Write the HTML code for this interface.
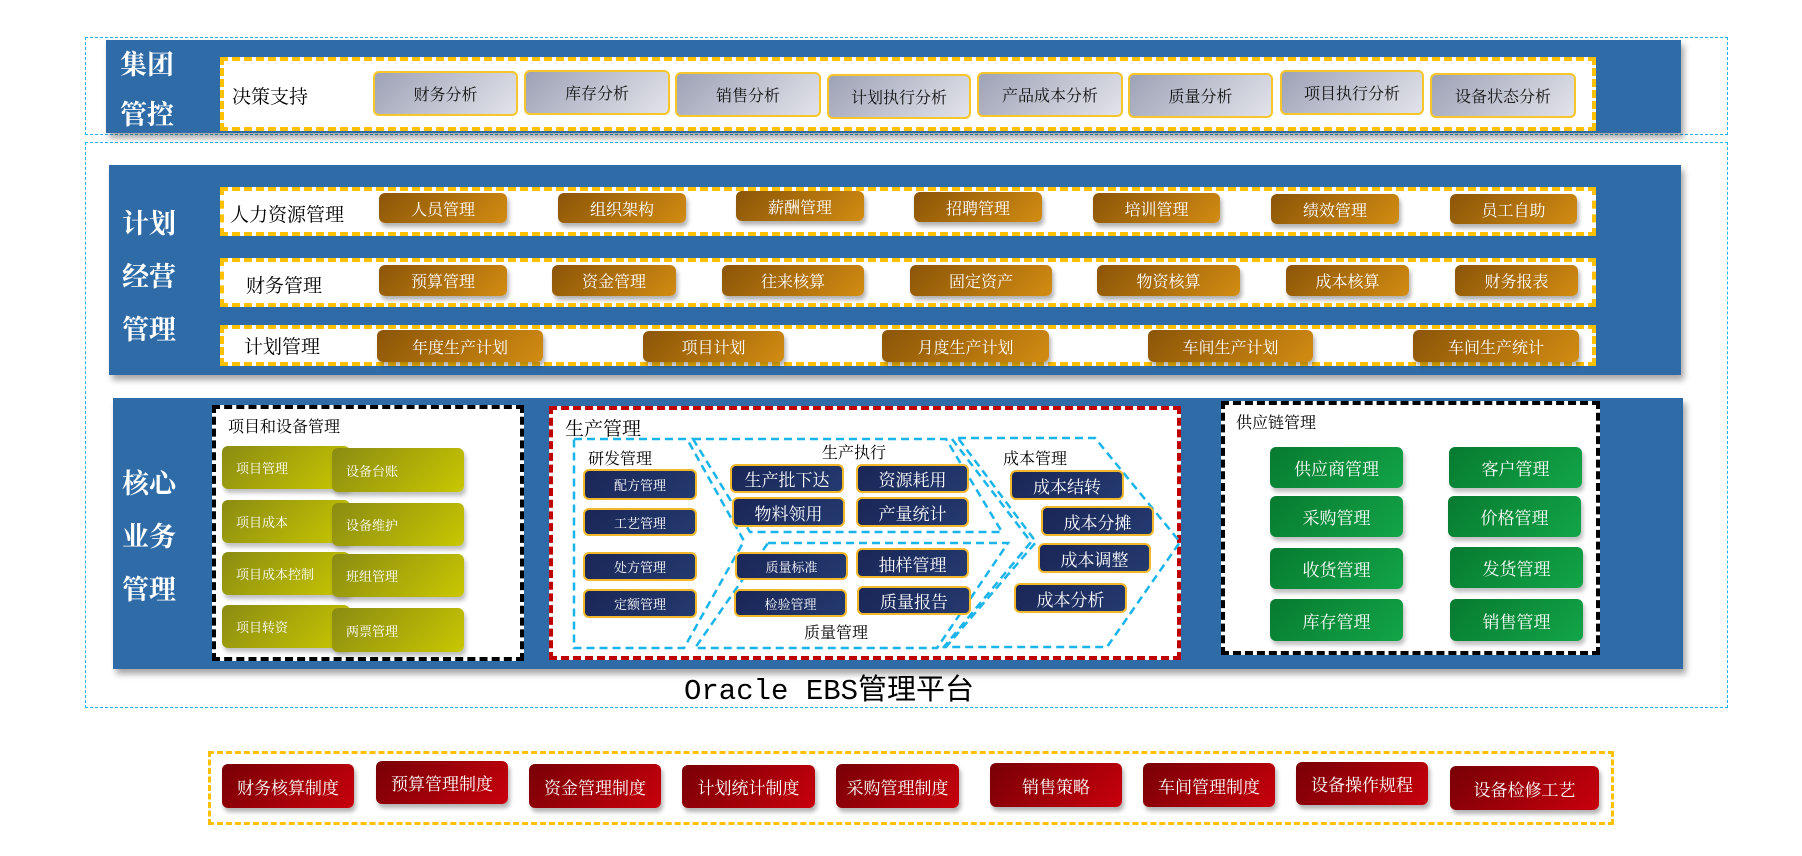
<!DOCTYPE html>
<html><head><meta charset="utf-8"><style>
*{margin:0;padding:0;box-sizing:border-box}
body{width:1802px;height:856px;background:#fff;position:relative;overflow:hidden;font-family:"Liberation Serif","Noto Serif CJK SC",serif}
.a{position:absolute}
.blue{background:#2f6ba7;box-shadow:3px 5px 6px rgba(0,0,0,.35)}
.cy{border:1.5px dashed #19b4ea}
.yd{background:#fff;border:4px dashed #ffc000}
.t{color:#fff;font-weight:bold;font-size:27px;font-family:"Liberation Serif","Noto Serif CJK SC",serif}
.lbl{color:#000;font-size:19px}
.b{display:flex;align-items:center;justify-content:center;border-radius:6px;white-space:nowrap}
.g{background:linear-gradient(135deg,#9ea2b6,#e2e3ea);border:2px solid #f7c62a;font-size:16px;color:#111}
.o{background:linear-gradient(135deg,#8b5508,#d28c12);color:#fff;font-size:16px;box-shadow:2px 4px 4px rgba(0,0,0,.3)}
.ol{background:linear-gradient(135deg,#8a8b12,#c9c701);color:#fff;font-size:13px;justify-content:flex-start;padding-left:14px;box-shadow:2px 4px 4px rgba(0,0,0,.25)}
.n{background:linear-gradient(135deg,#1a2656,#243a70);border:2px solid #f2b82a;color:#fff}
.gr{background:linear-gradient(135deg,#077a30,#12a548);color:#fff;font-size:17px;box-shadow:2px 4px 4px rgba(0,0,0,.25)}
.r{background:linear-gradient(135deg,#780006,#c8000c);color:#fff;font-size:17px;box-shadow:2px 4px 4px rgba(0,0,0,.3)}
</style></head><body>

<!-- group 1 -->
<div class="a cy" style="left:85px;top:37px;width:1643px;height:98px"></div>
<div class="a blue" style="left:106px;top:40px;width:1575px;height:93px"></div>
<div class="a t" style="left:120px;top:40px;line-height:50px">集团<br>管控</div>
<div class="a yd" style="left:220px;top:57px;width:1376px;height:74px"></div>
<div class="a lbl" style="left:232px;top:82px">决策支持</div>
<div class="a b g" style="left:373px;top:71px;width:145px;height:45px">财务分析</div>
<div class="a b g" style="left:524px;top:70px;width:146px;height:45px">库存分析</div>
<div class="a b g" style="left:675px;top:72px;width:146px;height:45px">销售分析</div>
<div class="a b g" style="left:827px;top:74px;width:144px;height:45px">计划执行分析</div>
<div class="a b g" style="left:977px;top:72px;width:146px;height:45px">产品成本分析</div>
<div class="a b g" style="left:1128px;top:73px;width:145px;height:45px">质量分析</div>
<div class="a b g" style="left:1280px;top:70px;width:144px;height:45px">项目执行分析</div>
<div class="a b g" style="left:1430px;top:73px;width:146px;height:45px">设备状态分析</div>

<!-- group 2 -->
<div class="a cy" style="left:85px;top:142px;width:1643px;height:566px"></div>
<div class="a blue" style="left:109px;top:165px;width:1572px;height:210px"></div>
<div class="a t" style="left:122px;top:198px;line-height:53px">计划<br>经营<br>管理</div>

<div class="a yd" style="left:220px;top:187px;width:1376px;height:49px"></div>
<div class="a lbl" style="left:230px;top:200px">人力资源管理</div>
<div class="a b o" style="left:379px;top:193px;width:128px;height:30px">人员管理</div>
<div class="a b o" style="left:558px;top:193px;width:128px;height:30px">组织架构</div>
<div class="a b o" style="left:736px;top:191px;width:128px;height:30px">薪酬管理</div>
<div class="a b o" style="left:914px;top:192px;width:128px;height:30px">招聘管理</div>
<div class="a b o" style="left:1093px;top:193px;width:127px;height:30px">培训管理</div>
<div class="a b o" style="left:1271px;top:194px;width:128px;height:30px">绩效管理</div>
<div class="a b o" style="left:1450px;top:194px;width:127px;height:30px">员工自助</div>

<div class="a yd" style="left:220px;top:258px;width:1376px;height:49px"></div>
<div class="a lbl" style="left:246px;top:271px">财务管理</div>
<div class="a b o" style="left:379px;top:265px;width:128px;height:31px">预算管理</div>
<div class="a b o" style="left:552px;top:265px;width:124px;height:31px">资金管理</div>
<div class="a b o" style="left:722px;top:265px;width:142px;height:31px">往来核算</div>
<div class="a b o" style="left:910px;top:265px;width:142px;height:31px">固定资产</div>
<div class="a b o" style="left:1097px;top:265px;width:143px;height:31px">物资核算</div>
<div class="a b o" style="left:1286px;top:265px;width:123px;height:31px">成本核算</div>
<div class="a b o" style="left:1455px;top:265px;width:123px;height:31px">财务报表</div>

<div class="a yd" style="left:220px;top:325px;width:1376px;height:41px"></div>
<div class="a lbl" style="left:244px;top:332px">计划管理</div>
<div class="a b o" style="left:377px;top:330px;width:166px;height:32px">年度生产计划</div>
<div class="a b o" style="left:643px;top:331px;width:141px;height:31px">项目计划</div>
<div class="a b o" style="left:882px;top:330px;width:167px;height:32px">月度生产计划</div>
<div class="a b o" style="left:1148px;top:330px;width:165px;height:32px">车间生产计划</div>
<div class="a b o" style="left:1413px;top:330px;width:166px;height:32px">车间生产统计</div>

<!-- core -->
<div class="a blue" style="left:113px;top:398px;width:1570px;height:271px"></div>
<div class="a t" style="left:122px;top:458px;line-height:53px">核心<br>业务<br>管理</div>

<div class="a" style="left:212px;top:405px;width:312px;height:256px;background:#fff;border:4px dashed #000"></div>
<div class="a" style="left:228px;top:414px;font-size:16px">项目和设备管理</div>
<div class="a b ol" style="left:222px;top:446px;width:128px;height:43px">项目管理</div>
<div class="a b ol" style="left:332px;top:448px;width:132px;height:44px">设备台账</div>
<div class="a b ol" style="left:222px;top:500px;width:128px;height:43px">项目成本</div>
<div class="a b ol" style="left:332px;top:503px;width:132px;height:43px">设备维护</div>
<div class="a b ol" style="left:222px;top:552px;width:128px;height:43px">项目成本控制</div>
<div class="a b ol" style="left:332px;top:554px;width:132px;height:43px">班组管理</div>
<div class="a b ol" style="left:222px;top:605px;width:128px;height:43px">项目转资</div>
<div class="a b ol" style="left:332px;top:608px;width:132px;height:44px">两票管理</div>

<div class="a" style="left:549px;top:406px;width:632px;height:254px;background:#fff;border:4px dashed #c00000"></div>
<div class="a" style="left:565px;top:414px;font-size:19px">生产管理</div>
<svg class="a" style="left:0;top:0" width="1802" height="856">
<g fill="none" stroke="#19b4ea" stroke-width="2.5" stroke-dasharray="8,5">
<polygon points="574,439 687,439 744,541 684,648 574,648"/>
<polygon points="693,439 946,439 1002,532 750,532"/>
<polygon points="768,543 1008,543 937,648 695,648"/>
<polyline points="952,439 1031,542 943,648"/>
<polygon points="958,438 1095,438 1180,542 1107,647 946,647 1036,542"/>
</g></svg>
<div class="a" style="left:588px;top:446px;font-size:16px">研发管理</div>
<div class="a" style="left:822px;top:440px;font-size:16px">生产执行</div>
<div class="a" style="left:804px;top:620px;font-size:16px">质量管理</div>
<div class="a" style="left:1003px;top:446px;font-size:16px">成本管理</div>

<div class="a b n" style="left:583px;top:469px;width:114px;height:31px;font-size:13px">配方管理</div>
<div class="a b n" style="left:583px;top:508px;width:114px;height:28px;font-size:13px">工艺管理</div>
<div class="a b n" style="left:583px;top:552px;width:114px;height:29px;font-size:13px">处方管理</div>
<div class="a b n" style="left:583px;top:589px;width:114px;height:29px;font-size:13px">定额管理</div>
<div class="a b n" style="left:730px;top:464px;width:114px;height:29px;font-size:17px">生产批下达</div>
<div class="a b n" style="left:856px;top:464px;width:113px;height:29px;font-size:17px">资源耗用</div>
<div class="a b n" style="left:732px;top:497px;width:113px;height:30px;font-size:17px">物料领用</div>
<div class="a b n" style="left:856px;top:497px;width:113px;height:30px;font-size:17px">产量统计</div>
<div class="a b n" style="left:735px;top:552px;width:113px;height:28px;font-size:13px">质量标准</div>
<div class="a b n" style="left:856px;top:548px;width:113px;height:30px;font-size:17px">抽样管理</div>
<div class="a b n" style="left:734px;top:589px;width:113px;height:28px;font-size:13px">检验管理</div>
<div class="a b n" style="left:857px;top:586px;width:114px;height:29px;font-size:17px">质量报告</div>
<div class="a b n" style="left:1010px;top:470px;width:114px;height:30px;font-size:17px">成本结转</div>
<div class="a b n" style="left:1041px;top:506px;width:113px;height:30px;font-size:17px">成本分摊</div>
<div class="a b n" style="left:1038px;top:543px;width:113px;height:30px;font-size:17px">成本调整</div>
<div class="a b n" style="left:1014px;top:583px;width:113px;height:30px;font-size:17px">成本分析</div>

<div class="a" style="left:1221px;top:401px;width:379px;height:254px;background:#fff;border:4px dashed #000"></div>
<div class="a" style="left:1236px;top:410px;font-size:16px">供应链管理</div>
<div class="a b gr" style="left:1270px;top:447px;width:133px;height:41px">供应商管理</div>
<div class="a b gr" style="left:1449px;top:447px;width:133px;height:41px">客户管理</div>
<div class="a b gr" style="left:1270px;top:496px;width:133px;height:41px">采购管理</div>
<div class="a b gr" style="left:1448px;top:496px;width:133px;height:41px">价格管理</div>
<div class="a b gr" style="left:1270px;top:548px;width:133px;height:41px">收货管理</div>
<div class="a b gr" style="left:1450px;top:547px;width:133px;height:41px">发货管理</div>
<div class="a b gr" style="left:1270px;top:599px;width:133px;height:42px">库存管理</div>
<div class="a b gr" style="left:1450px;top:599px;width:133px;height:42px">销售管理</div>

<div class="a" style="left:684px;top:666px;font-size:29px;font-family:'Liberation Mono','Noto Sans CJK SC',monospace;color:#000;white-space:nowrap">Oracle EBS管理平台</div>

<!-- bottom -->
<div class="a" style="left:208px;top:751px;width:1406px;height:74px;border:3px dashed #ffc000"></div>
<div class="a b r" style="left:222px;top:764px;width:132px;height:44px">财务核算制度</div>
<div class="a b r" style="left:376px;top:761px;width:132px;height:43px">预算管理制度</div>
<div class="a b r" style="left:529px;top:764px;width:132px;height:44px">资金管理制度</div>
<div class="a b r" style="left:682px;top:765px;width:133px;height:43px">计划统计制度</div>
<div class="a b r" style="left:836px;top:764px;width:123px;height:44px">采购管理制度</div>
<div class="a b r" style="left:990px;top:763px;width:132px;height:44px">销售策略</div>
<div class="a b r" style="left:1143px;top:763px;width:132px;height:44px">车间管理制度</div>
<div class="a b r" style="left:1296px;top:762px;width:132px;height:43px">设备操作规程</div>
<div class="a b r" style="left:1450px;top:766px;width:149px;height:44px">设备检修工艺</div>
</body></html>
